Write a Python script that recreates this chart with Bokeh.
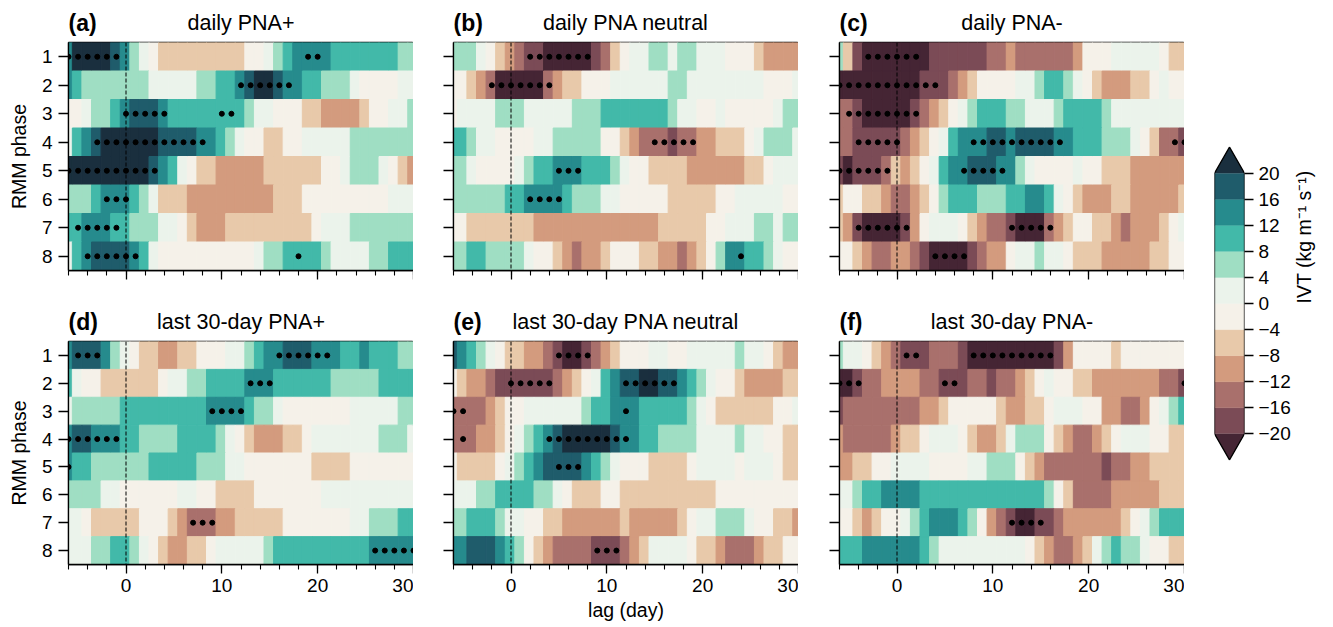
from bisect import bisect_right
from math import pi
from bokeh.embed import file_html
from bokeh.resources import INLINE
from bokeh.layouts import row, column
from bokeh.models import ColumnDataSource, FixedTicker, Span, Range1d, LinearAxis, Title
from bokeh.plotting import figure

# Chart data ------------------------------------------------------------------
lags = list(range(-6, 31))
phases = [1, 2, 3, 4, 5, 6, 7, 8]
levels = [-20, -16, -12, -8, -4, 0, 4, 8, 12, 16, 20]
colours = ["#452534", "#7B4B56", "#A9706C", "#D39B7E", "#E8C9AA", "#F5F1E9",
           "#EBF3EB", "#9FDEC3", "#42B9A9", "#268B8D", "#1F5C6B", "#1A2F3E"]
titles = ["daily PNA+", "daily PNA neutral", "daily PNA-",
          "last 30-day PNA+", "last 30-day PNA neutral", "last 30-day PNA-"]
tags = ["(a)", "(b)", "(c)", "(d)", "(e)", "(f)"]

panel_a = [
 [14,22,22,22,22,18,14,6,2,-2,-6,-6,-6,-6,-6,-6,-6,-6,-6,-2,-2,2,6,10,14,14,14,14,10,10,10,10,10,10,10,6,6],
 [14,10,6,6,6,6,6,6,6,2,2,2,2,2,6,6,10,10,14,18,22,22,18,14,14,10,10,6,6,6,2,-2,-2,-2,-2,2,2],
 [-2,-2,2,6,6,10,14,18,18,18,14,10,10,10,10,10,10,10,10,6,2,2,-2,-2,-2,-6,-6,-10,-10,-10,-10,-6,-2,-2,2,2,6],
 [2,10,14,18,22,22,22,22,22,22,18,18,18,18,14,14,10,6,2,-2,-2,-6,-6,-2,-2,2,2,2,2,2,6,6,6,6,6,6,6],
 [22,22,22,22,22,22,22,22,22,18,14,10,2,-2,-6,-6,-10,-10,-10,-10,-10,-6,-6,-6,-6,-6,-6,-2,-2,2,6,6,6,2,-2,-6,-10],
 [6,6,6,10,14,14,14,10,6,2,-6,-6,-6,-10,-10,-10,-10,-10,-10,-10,-10,-10,-6,-6,-6,-2,-2,-2,-2,-2,-2,-2,-2,-2,2,2,2],
 [10,10,14,14,14,10,10,6,6,6,2,2,-2,-6,-10,-10,-10,-6,-6,-6,-6,-6,-6,-6,-6,-6,-2,2,2,2,6,6,6,6,6,6,6],
 [2,10,14,18,18,18,18,14,10,2,-2,-2,-2,-2,-2,-2,-2,-2,-2,-2,2,6,6,10,10,10,10,6,2,2,2,2,6,6,10,10,10],
]
panel_b = [
 [6,6,6,2,-2,-6,-10,-14,-18,-18,-22,-22,-22,-22,-22,-18,-14,-6,-2,2,2,6,6,2,6,6,2,2,2,-2,-2,-2,-6,-10,-10,-10,-10],
 [-2,-2,-6,-10,-14,-22,-22,-22,-22,-22,-14,-10,-6,-6,-2,-2,-2,2,2,2,2,2,2,6,6,2,2,2,2,2,2,2,2,-2,-2,-2,2],
 [-2,2,2,2,2,6,6,6,2,2,2,2,2,6,6,6,10,10,10,10,10,10,10,6,2,2,-2,-2,2,-2,-2,-2,-2,-2,2,6,6],
 [10,10,6,2,2,-2,-2,-2,-2,2,2,6,6,6,6,6,-2,-2,-6,-10,-14,-14,-14,-18,-14,-14,-10,-10,-6,-6,-6,-2,2,6,6,6,2],
 [6,6,2,-2,-2,-2,-2,2,6,10,10,14,14,14,10,10,10,6,2,-2,-2,-6,-6,-6,-6,-10,-10,-10,-10,-10,-10,-6,-6,-2,2,2,2],
 [6,6,6,6,6,6,10,10,14,14,14,14,10,6,6,6,2,2,-2,-2,-2,-2,-2,-6,-6,-6,-6,-6,-2,-2,2,2,2,2,2,-2,-2],
 [-2,-2,-6,-6,-6,-6,-6,-6,-6,-10,-10,-10,-10,-10,-10,-10,-10,-10,-10,-10,-10,-10,-6,-6,-6,-6,-6,-2,-2,2,2,2,6,6,2,6,6],
 [6,6,10,10,6,6,6,6,2,-2,-2,-6,-10,-14,-10,-10,-6,-2,-2,-2,-6,-6,-10,-10,-14,-10,-6,-2,6,14,14,10,10,6,2,-2,-2],
]
panel_c = [
 [6,-6,-18,-22,-22,-22,-22,-22,-22,-22,-18,-18,-18,-18,-18,-18,-14,-14,-10,-14,-14,-14,-14,-14,-14,-10,-2,-2,-2,2,2,2,2,2,-2,-6,-6],
 [-22,-22,-22,-22,-22,-22,-22,-22,-22,-18,-18,-18,-14,-10,-6,-2,-2,-2,-2,2,2,6,10,10,6,2,-2,-6,-10,-10,-10,-6,-6,-2,2,-2,-2],
 [-14,-14,-18,-22,-22,-22,-22,-22,-18,-14,-10,-6,-2,2,6,10,10,10,6,6,2,2,2,6,10,10,10,10,6,2,2,2,2,2,2,2,2],
 [-14,-14,-18,-18,-18,-18,-18,-14,-10,-6,-2,2,10,14,14,14,18,18,14,18,18,18,18,14,14,10,10,10,6,6,6,2,-2,-6,-14,-14,-18],
 [-18,-22,-18,-18,-18,-14,-6,-10,-6,-2,2,10,14,14,18,18,18,14,14,6,2,-2,-2,-2,-2,2,-2,-2,-6,-6,-6,-10,-10,-10,-10,-10,-10],
 [-6,-2,-2,-6,-6,-10,-14,-14,-10,-6,-2,6,10,10,10,6,6,6,10,10,14,14,10,2,-2,-6,-10,-10,-10,-6,-6,-10,-10,-10,-10,-10,-6],
 [-6,-10,-18,-22,-22,-22,-22,-18,-10,-2,2,2,2,-2,-6,-10,-14,-14,-18,-22,-22,-22,-14,-10,-6,-2,-2,-6,-6,-10,-14,-10,-10,-10,-6,-2,2],
 [-2,-2,-6,-10,-14,-14,-10,-10,-14,-18,-22,-22,-22,-22,-18,-14,-10,-10,-2,2,2,6,2,2,-2,-6,-6,-6,-10,-10,-10,-10,-10,-6,-6,-2,-2],
]
panel_d = [
 [14,18,18,18,14,6,2,-2,-6,-6,-10,-10,-6,-6,-2,-2,-2,2,2,6,10,14,14,18,18,18,14,14,14,10,10,14,10,10,10,6,6],
 [10,2,-2,-2,-6,-6,-6,-6,-6,-6,-2,2,2,6,6,10,10,10,10,14,14,14,10,10,10,10,10,10,6,6,6,6,6,10,10,10,10],
 [2,6,6,6,6,6,10,10,10,10,10,10,10,10,10,14,14,14,14,10,6,6,2,-2,-2,-2,-2,-2,-2,-2,2,2,2,2,2,6,6],
 [14,18,18,14,14,14,10,10,6,6,6,6,10,10,10,10,6,2,-2,-6,-10,-10,-10,-6,-6,-2,2,2,2,2,2,2,2,6,6,6,2],
 [14,10,10,6,6,6,6,6,6,10,10,10,10,10,6,6,6,2,2,-2,-2,-2,-2,-2,-2,-2,-6,-6,-6,-6,-2,-2,-2,-2,-2,-2,-2],
 [6,6,6,6,2,2,-2,-2,-2,-2,-2,-2,2,2,-2,-2,-6,-6,-6,-6,-2,-2,-2,-2,-2,-2,-2,2,2,2,2,2,2,2,2,2,2],
 [2,2,-2,-6,-6,-6,-6,-6,-2,-2,-2,-6,-10,-14,-14,-14,-10,-10,-6,-6,-6,-6,-6,-2,-2,-2,-2,-2,-2,-2,2,2,6,6,6,10,10],
 [2,2,2,6,6,10,10,6,2,-2,-6,-10,-10,-6,-6,-2,2,2,2,2,2,6,10,10,10,10,10,10,10,10,10,10,14,14,14,14,14],
]
panel_e = [
 [18,14,10,6,2,-2,-6,-6,-10,-10,-14,-18,-22,-22,-18,-14,-10,-6,-2,-2,-2,2,2,-2,-2,2,2,2,2,2,6,2,2,-2,-6,-10,-10],
 [-2,-6,-10,-10,-14,-18,-18,-18,-18,-18,-18,-14,-10,-6,-2,2,10,14,18,18,22,22,18,18,14,10,6,2,-2,-2,-6,-10,-10,-10,-10,-6,-6],
 [-14,-14,-14,-14,-10,-6,-2,-2,2,2,2,2,2,2,6,10,10,14,14,14,10,10,10,10,10,6,2,-2,-6,-6,-6,-6,-6,-6,-2,-2,2],
 [-14,-14,-14,-10,-10,-6,-2,2,6,10,14,18,22,22,22,22,22,18,14,14,10,10,6,6,6,6,2,2,2,2,6,2,2,-2,-2,-6,-6],
 [-2,-6,-6,-6,-6,-2,2,6,10,14,18,18,18,18,14,10,6,2,-2,-2,-2,-6,-6,-6,-6,-2,2,2,2,2,-2,2,2,2,-2,-6,-6],
 [2,2,2,6,6,10,10,10,10,6,6,2,-2,-6,-6,-6,-2,-2,-6,-6,-6,-6,-6,-6,-6,-6,-6,-6,-2,-2,-2,-2,-2,-2,-2,-2,-2],
 [6,6,10,10,10,6,2,2,-2,-2,-6,-6,-10,-10,-10,-10,-10,-10,-6,-10,-10,-10,-10,-10,-6,-2,2,2,6,6,6,2,-2,-2,-6,-6,-10],
 [14,14,18,18,18,14,10,6,-2,-6,-10,-14,-14,-14,-14,-18,-18,-18,-14,-10,-6,2,2,2,2,-2,-6,-6,-10,-14,-14,-14,-10,-6,-6,-2,-2],
]
panel_f = [
 [6,2,2,-2,-6,-10,-14,-18,-18,-18,-14,-14,-14,-18,-22,-22,-22,-22,-22,-22,-22,-22,-22,-18,-10,-2,-2,-2,-2,-6,-2,-2,-2,-2,-2,-2,-2],
 [-22,-22,-18,-14,-14,-10,-10,-10,-10,-14,-14,-18,-18,-18,-14,-14,-18,-14,-14,-10,-6,-2,2,-2,-2,-6,-6,-10,-10,-10,-10,-10,-10,-10,-14,-14,-18],
 [-18,-14,-14,-14,-14,-14,-14,-14,-14,-10,-10,-6,-2,-2,-2,-2,-2,-6,-10,-10,-6,-6,-2,2,2,2,-2,-2,-10,-10,-14,-14,-10,-2,2,6,10],
 [-10,-14,-14,-14,-14,-14,-10,-6,-6,-2,2,2,2,-2,-6,-10,-10,-6,2,6,6,6,-2,-6,-10,-14,-14,-10,-6,-2,2,2,2,-2,-2,-6,-6],
 [-10,-10,-6,-6,-2,-2,2,2,2,2,-2,-2,-2,-2,2,2,6,6,6,-2,-6,-10,-14,-14,-14,-14,-14,-14,-18,-14,-14,-10,-10,-6,-6,-6,-6],
 [2,2,6,10,10,14,14,14,14,10,10,10,10,10,10,10,10,10,10,10,10,10,6,-2,-6,-14,-14,-14,-14,-10,-10,-10,-10,-10,-6,-6,-6],
 [-2,-2,-6,-10,-6,-2,-2,2,6,10,14,14,14,10,6,-2,-10,-14,-18,-22,-22,-18,-18,-14,-10,-10,-10,-10,-10,-10,-6,-2,2,6,10,10,10],
 [10,10,10,14,14,14,14,14,14,10,6,2,2,2,2,2,2,2,2,2,-2,-6,-10,-14,-14,-10,-6,2,6,10,6,6,2,-2,-2,-6,-6],
]
dots_a = [[-6,-5,-4,-3,-2,-1,19,20],[12,13,14,15,16,17],[0,1,2,3,4,10,11],[-3,-2,-1,0,1,2,3,4,5,6,7,8],
          [-6,-5,-4,-3,-2,-1,0,1,2,3],[-2,-1,0],[-5,-4,-3,-2,-1],[-4,-3,-2,-1,0,1,18]]
dots_b = [[2,3,4,5,6,7,8],[-2,-1,0,1,2,3,4],[],[15,16,17,18,19],[5,6,7],[2,3,4,5],[],[24]]
dots_c = [[-3,-2,-1,0,1,2],[-6,-5,-4,-3,-2,-1,0,1,2,3,4],[-5,-4,-3,-2,-1,0,1,2],
          [-4,-3,-2,-1,0,8,9,10,11,12,13,14,15,16,17,29,30],[-6,-5,-4,-3,-2,-1,7,8,9,10,11],[],
          [-4,-3,-2,-1,0,1,12,13,14,15,16],[4,5,6,7]]
dots_d = [[-5,-4,-3,16,17,18,19,20,21],[13,14,15],[9,10,11,12],[-6,-5,-4,-3,-2,-1],[-6],[],[7,8,9],[26,27,28,29,30]]
dots_e = [[5,6,7,8],[0,1,2,3,4,12,13,14,15,16,17],[-6,-5,12],[-5,4,5,6,7,8,9,10,11,12],[5,6,7],[],[],[9,10,11]]
dots_f = [[1,2,8,9,10,11,12,13,14,15,16],[-6,-5,-4,5,6,30],[],[],[],[],[12,13,14,15],[]]

panels = [panel_a, panel_b, panel_c, panel_d, panel_e, panel_f]
dots = [dots_a, dots_b, dots_c, dots_d, dots_e, dots_f]
x_ticks = [0, 10, 20, 30]
x_minor = list(range(-6, 31, 2))
cbar_ticks = levels

FONT = "Liberation Sans"
TICK_SIZE = "19px"
LABEL_SIZE = "19.5px"


def style_axis(ax):
    ax.axis_line_color = "black"
    ax.axis_line_width = 1.3
    ax.major_tick_line_width = 1.3
    ax.minor_tick_line_width = 1.1
    ax.major_tick_in = 0
    ax.minor_tick_in = 0
    ax.major_label_text_font = FONT
    ax.major_label_text_font_size = TICK_SIZE
    ax.major_label_text_color = "black"
    ax.axis_label_text_font = FONT
    ax.axis_label_text_font_size = LABEL_SIZE
    ax.axis_label_text_font_style = "normal"
    ax.axis_label_text_color = "black"


def panel(i, left, top, bottom):
    frame_w, frame_h = 345, 228 if i < 3 else 229
    p = figure(width=left + frame_w, height=top + frame_h + bottom,
               x_range=Range1d(-6, 30), y_range=Range1d(8.5, 0.5),
               output_backend="svg", toolbar_location=None,
               min_border_left=left, min_border_right=0,
               min_border_top=top, min_border_bottom=bottom,
               background_fill_color="white")
    p.grid.visible = False
    p.outline_line_color = "black"
    p.outline_line_width = 1.3

    l, r, t, b, c = [], [], [], [], []
    for ph, vals in zip(phases, panels[i]):
        assert len(vals) == len(lags), (i, ph, len(vals))
        for lag, v in zip(lags, vals):
            l.append(lag - 0.6)
            r.append(lag + 0.4)
            t.append(ph - 0.5)
            b.append(ph + 0.5)
            c.append(colours[bisect_right(levels, v)])
    p.quad(left="l", right="r", top="t", bottom="b", fill_color="c", line_color="c",
           line_width=1, source=ColumnDataSource(dict(l=l, r=r, t=t, b=b, c=c)))

    dx, dy = [], []
    for ph, ds in zip(phases, dots[i]):
        for d in ds:
            dx.append(d)
            dy.append(ph)
    p.scatter(dx, dy, size=5, color="black", marker="circle")
    p.add_layout(Span(location=0, dimension="height", line_color="black",
                      line_dash="4 2", line_width=1))

    xa, ya = p.xaxis[0], p.yaxis[0]
    style_axis(xa)
    style_axis(ya)
    xa.ticker = FixedTicker(ticks=x_ticks, minor_ticks=x_minor)
    xa.major_tick_out = 9
    xa.minor_tick_out = 5
    xa.major_label_standoff = 5
    ya.ticker = FixedTicker(ticks=phases, minor_ticks=[])
    ya.major_tick_out = 10
    ya.minor_tick_out = 0
    ya.major_label_standoff = 6
    if i < 3:
        xa.major_label_overrides = {t_: "" for t_ in x_ticks}
    if i % 3 != 0:
        ya.major_label_overrides = {t_: "" for t_ in phases}
    else:
        ya.axis_label = "RMM phase"
        ya.axis_label_standoff = 9
    if i == 4:
        xa.axis_label = "lag (day)"
        xa.axis_label_standoff = 4

    p.title.text = titles[i]
    p.title.align = "center"
    p.title.text_font = FONT
    p.title.text_font_size = "21.5px"
    p.title.text_font_style = "normal"
    p.title.text_color = "black"
    p.title.standoff = -66
    p.add_layout(Title(text=tags[i], align="left", text_font=FONT, text_font_size="23px",
                       text_font_style="bold", text_color="black", standoff=13), "above")
    return p


figs = [panel(0, 68, 42, 30), panel(1, 40, 42, 30), panel(2, 41, 42, 30),
        panel(3, 68, 35, 62), panel(4, 40, 35, 62), panel(5, 41, 35, 62)]

# Colour bar -----------------------------------------------------------------
step = levels[1] - levels[0]
cb = figure(width=148, height=626, x_range=Range1d(0, 1),
            y_range=Range1d(levels[0] - step * 1.022, levels[-1] + step * 1.022),
            output_backend="svg", toolbar_location=None,
            min_border_left=30, min_border_right=88, min_border_top=146, min_border_bottom=166)
cb.grid.visible = False
cb.outline_line_color = None
cb.quad(left=0, right=1, bottom=levels[:-1], top=levels[1:], fill_color=colours[1:-1],
        line_color=colours[1:-1], line_width=0.4)
tip_low = levels[0] - step
tip_high = levels[-1] + step
cb.patch([0, 0.5, 1], [levels[0], tip_low, levels[0]], fill_color=colours[0], line_color=None)
cb.patch([0, 0.5, 1], [levels[-1], tip_high, levels[-1]], fill_color=colours[-1], line_color=None)
cb.line([0, 0.5, 1, 1, 0.5, 0, 0],
        [levels[0], tip_low, levels[0], levels[-1], tip_high, levels[-1], levels[0]],
        line_color="black", line_width=1.3)
cb.xaxis.visible = False
cb.yaxis.visible = False
ax = LinearAxis()
style_axis(ax)
ax.axis_line_color = None
ax.ticker = FixedTicker(ticks=cbar_ticks, minor_ticks=[])
ax.major_tick_out = 9
ax.major_label_standoff = 5
ax.major_label_overrides = {t_: str(t_).replace("-", "\u2212") for t_ in cbar_ticks}
ax.axis_label = "IVT (kg m\u207b\u00b9 s\u207b\u00b9)"
ax.axis_label_orientation = pi / 2
ax.axis_label_standoff = 10
cb.add_layout(ax, "right")

page = row(column(row(*figs[:3]), row(*figs[3:])), cb)
open("out.html", "w").write(file_html(page, INLINE))
